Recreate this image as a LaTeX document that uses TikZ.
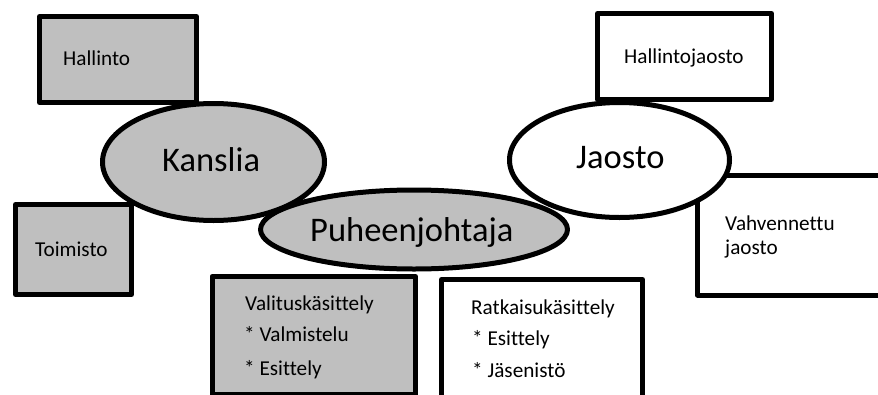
\documentclass[tikz,border=0pt]{standalone}
\usepackage{fontspec}
\setmainfont{Carlito}[RawFeature=-liga]
\usetikzlibrary{shapes.geometric}
\definecolor{boxgray}{HTML}{BFBFBF}
\begin{document}
\begin{tikzpicture}[x=1pt,y=-1pt,
  outline/.style={draw=black,line width=5pt,line join=round,inner sep=0pt,outer sep=0pt},
  graybox/.style={outline,fill=boxgray},
  whitebox/.style={outline,fill=white},
  oval/.style={outline,ellipse},
  small/.style={font=\fontsize{21.2}{25}\selectfont,anchor=base west,inner sep=0pt},
  big/.style={font=\fontsize{34.5}{40}\selectfont,anchor=base west,inner sep=0pt}]
\useasboundingbox (0,0) rectangle (878,394);
\clip (0,0) rectangle (878,394);

% left group: office units around the registry
\node[graybox,minimum width=157pt,minimum height=86pt] (hallintobox) at (118,59.5) {};
\node[graybox,minimum width=116pt,minimum height=90pt] (toimistobox) at (73.5,249.5) {};
\node[oval,fill=boxgray,minimum width=222pt,minimum height=117pt] (kanslia) at (213.5,162) {};

% right group: sections
\node[whitebox,minimum width=174pt,minimum height=86pt] (hjbox) at (684.5,56.5) {};
\node[whitebox,minimum width=202.5pt,minimum height=119.5pt] (vahvbox) at (798.75,235.25) {};
\node[oval,fill=white,minimum width=220pt,minimum height=115pt] (jaosto) at (619.5,160) {};

% chair in the middle
\node[oval,fill=boxgray,minimum width=307pt,minimum height=79pt] (pj) at (414,229.5) {};

% handling boxes below
\node[graybox,minimum width=203.5pt,minimum height=118pt] (valbox) at (313.75,335.5) {};
\node[whitebox,minimum width=201pt,minimum height=140.5pt] (ratbox) at (542,349.75) {};

% labels
\node[small] (t1) at (63,65.7) {Hallinto};
\node[small] (t2) at (35,256) {Toimisto};
\node[small] (t3) at (624,63.3) {Hallintojaosto};
\node[small] (t4) at (725,230) {Vahvennettu};
\node[small] (t5) at (725,254) {jaosto};
\node[big] (t6) at (162,171.7) {Kanslia};
\node[big] (t7) at (310,241.7) {Puheenjohtaja};
\node[big] (t8) at (576,168.3) {Jaosto};
\node[small] (t9) at (245,310) {Valituskäsittely};
\node[small] (t10) at (244,341.7) {* Valmistelu};
\node[small] (t11) at (244,375) {* Esittely};
\node[small] (t12) at (471,314) {Ratkaisukäsittely};
\node[small] (t13) at (472,345.7) {* Esittely};
\node[small] (t14) at (472,377) {* Jäsenistö};
\end{tikzpicture}
\end{document}
